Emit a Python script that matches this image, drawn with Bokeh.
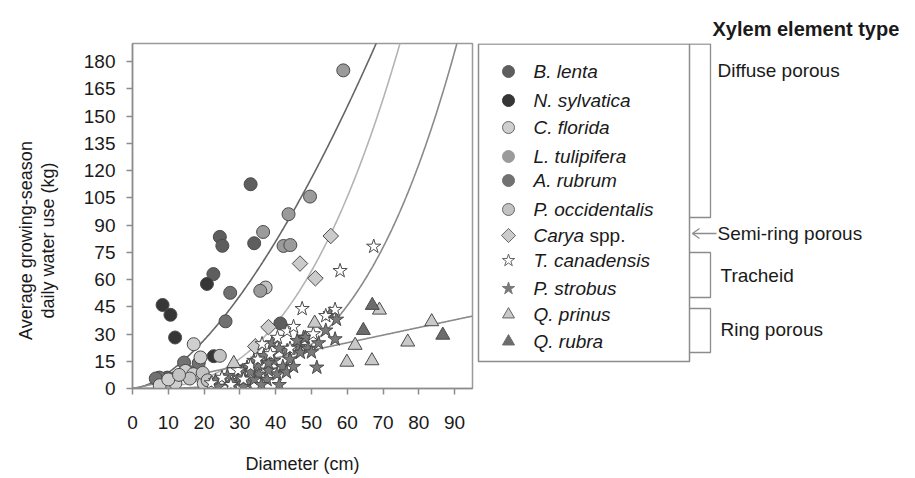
import numpy as np
from bokeh.plotting import figure
from bokeh.models import Range1d, FixedTicker
from bokeh.layouts import row
from bokeh.embed import file_html
from bokeh.resources import INLINE
from bokeh.core.properties import value

FONT = "Liberation Sans"

# ---------------- data ----------------
b_lenta_x = [33.0, 24.4, 25.1, 34.0, 22.6, 41.3, 9.7, 12.1]
b_lenta_y = [112.5, 83.5, 78.6, 80.0, 63.0, 35.8, 6.0, 6.0]

n_sylvatica_x = [8.4, 10.6, 11.9, 20.8, 22.7]
n_sylvatica_y = [46.0, 40.6, 28.1, 57.6, 17.8]

c_florida_x = [17.1, 19.0, 14.8, 17.0, 7.6, 19.9, 12.0, 10.0]
c_florida_y = [24.4, 17.1, 9.7, 7.9, 1.8, 2.8, 3.0, 5.0]

l_tulipifera_x = [58.9, 49.6, 43.6, 36.5, 42.2, 44.1, 35.7]
l_tulipifera_y = [175.2, 105.7, 96.0, 86.2, 78.5, 79.0, 53.8]

a_rubrum_x = [27.3, 26.0, 14.4, 18.5, 7.5, 6.5, 16.0]
a_rubrum_y = [52.7, 37.0, 14.3, 14.0, 6.0, 5.5, 9.0]

p_occidentalis_x = [37.2, 24.4, 19.6, 21.0, 16.0, 13.0]
p_occidentalis_y = [55.6, 18.0, 8.6, 4.5, 5.5, 7.5]

carya_x = [55.4, 46.8, 51.1, 38.0, 34.3]
carya_y = [84.0, 68.8, 60.7, 33.8, 23.2]

t_canadensis_x = [67.4, 58.0, 47.4, 56.6, 43.2, 36.2, 40.5, 45.0, 54.0, 29.5,
                  25.0, 33.0, 38.5, 22.0, 31.0, 35.0, 27.5, 44.0, 50.5]
t_canadensis_y = [78.2, 64.8, 43.9, 43.4, 31.6, 24.5, 28.0, 34.0, 40.0, 10.0,
                  6.0, 12.5, 19.0, 3.0, 5.0, 16.0, 2.0, 22.0, 30.0]

p_strobus_x = [55.2, 57.0, 56.6, 51.5, 47.8, 46.5, 48.3, 46.0, 43.2, 46.9,
               39.5, 36.7, 33.9, 32.0, 30.7, 29.3, 26.5, 23.2, 27.5, 32.1,
               35.3, 37.6, 40.4, 42.0, 44.0, 38.0, 34.0, 31.0, 28.0, 36.0,
               41.0, 43.0, 45.0, 49.0, 52.0, 54.0, 50.0, 39.0, 41.0, 33.0,
               30.0, 24.0, 35.0, 38.0]
p_strobus_y = [41.0, 38.0, 27.2, 11.6, 28.1, 23.0, 28.0, 26.3, 20.8, 19.8,
               15.3, 18.0, 15.3, 11.6, 9.7, 4.2, 7.0, 4.2, 1.3, 3.0,
               7.8, 4.8, 7.9, 12.0, 16.0, 10.0, 5.0, 1.0, 3.0, 2.0,
               2.0, 9.0, 12.0, 22.0, 25.0, 32.0, 20.0, 25.0, 22.0, 9.0,
               6.0, 1.0, 13.0, 14.0]

q_prinus_x = [69.0, 83.6, 76.9, 66.9, 62.2, 59.9, 50.9, 28.3]
q_prinus_y = [43.2, 36.8, 25.6, 15.3, 23.8, 14.5, 36.0, 13.8]

q_rubra_x = [67.0, 64.5, 86.7]
q_rubra_y = [45.8, 32.0, 29.4]

# fitted curves y = a * x**b (diffuse, semi-ring, tracheid) and ring-porous line y = k*x
curve_a = [0.219, 0.00181, 3.21e-5]
curve_b = [1.603, 2.68, 3.46]
ring_slope = 0.42

x_ticks = [0, 10, 20, 30, 40, 50, 60, 70, 80, 90]
y_ticks = [0, 15, 30, 45, 60, 75, 90, 105, 120, 135, 150, 165, 180]

group_labels = ["Diffuse porous", "Semi-ring porous", "Tracheid", "Ring porous"]

H = 476
TOP, BOTTOM = 43, 88
TXT = "#1a1a1a"

# ---------------- left strip with the y title ----------------
WL = 70
pl = figure(width=WL, height=H, x_range=Range1d(0, WL), y_range=Range1d(H - BOTTOM, TOP),
            output_backend="svg", toolbar_location=None, x_axis_type=None, y_axis_type=None,
            min_border_left=0, min_border_right=0, min_border_top=TOP, min_border_bottom=BOTTOM)
pl.grid.visible = False
pl.outline_line_color = None
pl.text(x=[25, 47], y=[240, 240], text=["Average growing-season", "daily water use (kg)"],
        angle=np.pi / 2, text_font=value(FONT), text_font_size="18px", text_color=TXT,
        text_align="center", text_baseline="middle")

# ---------------- main plot ----------------
p = figure(width=406, height=H, x_range=Range1d(0, 95), y_range=Range1d(0, 190),
           output_backend="svg", toolbar_location=None,
           min_border_left=62, min_border_right=4, min_border_top=TOP, min_border_bottom=BOTTOM)
p.grid.visible = False
p.outline_line_color = "#9a9a9a"
p.outline_line_width = 1.5

p.xaxis.ticker = FixedTicker(ticks=x_ticks)
p.yaxis.ticker = FixedTicker(ticks=y_ticks)
for ax in (p.xaxis, p.yaxis):
    ax.axis_line_color = "#8c8c8c"
    ax.axis_line_width = 1.5
    ax.major_tick_line_color = "#8c8c8c"
    ax.major_tick_line_width = 1.5
    ax.major_tick_out = 6
    ax.major_tick_in = 0
    ax.minor_tick_out = 0
    ax.minor_tick_in = 0
    ax.major_label_text_font = FONT
    ax.major_label_text_font_size = "19px"
    ax.major_label_text_color = TXT
p.xaxis.major_label_standoff = 21
p.yaxis.major_label_standoff = 11
p.xaxis.axis_label = "Diameter (cm)"
p.xaxis.axis_label_text_font = FONT
p.xaxis.axis_label_text_font_size = "18px"
p.xaxis.axis_label_text_font_style = "normal"
p.xaxis.axis_label_text_color = TXT
p.xaxis.axis_label_standoff = 22

xs = np.linspace(0, 95, 400)
curve_colors = ["#666666", "#b4b4b4", "#8a8a8a"]
for a, b, c in zip(curve_a, curve_b, curve_colors):
    p.line(xs, a * xs ** b, line_color=c, line_width=1.6)
p.line(xs, ring_slope * xs, line_color="#8a8a8a", line_width=1.6)

OUT = "#4a4a4a"
series = [
    (b_lenta_x, b_lenta_y, "circle", "#5e5e5e", 13, 0),
    (n_sylvatica_x, n_sylvatica_y, "circle", "#363636", 13, 0),
    (a_rubrum_x, a_rubrum_y, "circle", "#717171", 13, 0),
    (c_florida_x, c_florida_y, "circle", "#cfcfcf", 13, 0),
    (p_occidentalis_x, p_occidentalis_y, "circle", "#c2c2c2", 13, 0),
    (l_tulipifera_x, l_tulipifera_y, "circle", "#9b9b9b", 13, 0),
    (carya_x, carya_y, "square", "#cbcbcb", 11, np.pi / 4),
    (p_strobus_x, p_strobus_y, "star", "#7a7a7a", 15, 0),
    (t_canadensis_x, t_canadensis_y, "star", "#ffffff", 15, 0),
    (q_prinus_x, q_prinus_y, "triangle", "#c9c9c9", 14, 0),
    (q_rubra_x, q_rubra_y, "triangle", "#6c6c6c", 14, 0),
]
for sx, sy, mk, fc, sz, ang in series:
    p.scatter(sx, sy, marker=mk, size=sz, fill_color=fc, line_color=OUT,
              line_width=1, angle=ang)

# ---------------- legend / xylem panel ----------------
X0 = WL + 406
W2 = 913 - X0
q = figure(width=W2, height=H, x_range=Range1d(X0, X0 + W2), y_range=Range1d(H - BOTTOM, TOP),
           output_backend="svg", toolbar_location=None, x_axis_type=None, y_axis_type=None,
           min_border_left=0, min_border_right=0, min_border_top=TOP, min_border_bottom=BOTTOM,
           title="Xylem element type")
q.grid.visible = False
q.outline_line_color = None
q.title.text_font = FONT
q.title.text_font_size = "20px"
q.title.text_font_style = "bold"
q.title.text_color = TXT
q.title.align = "left"
q.title.offset = 712 - X0
q.title.standoff = 8

GRAY = "#8c8c8c"
q.quad(left=[478], right=[689], top=[43.5], bottom=[361], fill_color="white",
       line_color=GRAY, line_width=1.5)

leg_names = ["B. lenta", "N. sylvatica", "C. florida", "L. tulipifera", "A. rubrum",
             "P. occidentalis", "Carya", "T. canadensis", "P. strobus", "Q. prinus", "Q. rubra"]
leg_y = [71, 100, 127, 156, 180, 209, 235, 260, 288, 314, 341]
leg_style = [("circle", "#5e5e5e", 12, 0), ("circle", "#363636", 12, 0),
             ("circle", "#cfcfcf", 12, 0), ("circle", "#9b9b9b", 12, 0),
             ("circle", "#717171", 12, 0), ("circle", "#c2c2c2", 12, 0),
             ("square", "#cbcbcb", 10, np.pi / 4), ("star", "#ffffff", 13, 0),
             ("star", "#7a7a7a", 13, 0), ("triangle", "#c9c9c9", 12, 0),
             ("triangle", "#6c6c6c", 12, 0)]
light = ("#cfcfcf", "#c2c2c2", "#cbcbcb", "#c9c9c9", "#ffffff")
for yy, (mk, fc, sz, ang) in zip(leg_y, leg_style):
    q.scatter([508], [yy], marker=mk, size=sz, fill_color=fc,
              line_color="#666666" if fc in light else fc, line_width=1, angle=ang)
q.text(x=[533] * len(leg_names), y=leg_y, text=leg_names, text_font=value(FONT),
       text_font_size="19px", text_font_style="italic", text_color=TXT,
       text_baseline="middle", text_align="left")
q.text(x=[589], y=[235], text=["spp."], text_font=value(FONT),
       text_font_size="19px", text_color=TXT, text_baseline="middle", text_align="left")

# brackets
q.multi_line(xs=[[689, 710, 710, 689], [689, 710, 710, 689], [689, 710, 710, 689]],
             ys=[[43.5, 43.5, 217, 217], [252, 252, 297, 297], [308, 308, 352, 352]],
             line_color=GRAY, line_width=1.3)
# arrow for semi-ring porous
q.multi_line(xs=[[716, 692], [699, 692, 699]], ys=[[233, 233], [228, 233, 238]],
             line_color=GRAY, line_width=1.3)

q.text(x=[717, 717, 720, 720], y=[70, 233, 275, 329], text=group_labels,
       text_font=value(FONT), text_font_size="19px", text_color=TXT,
       text_baseline="middle", text_align="left")

layout = row(pl, p, q)
open("out.html", "w").write(file_html(layout, INLINE))
